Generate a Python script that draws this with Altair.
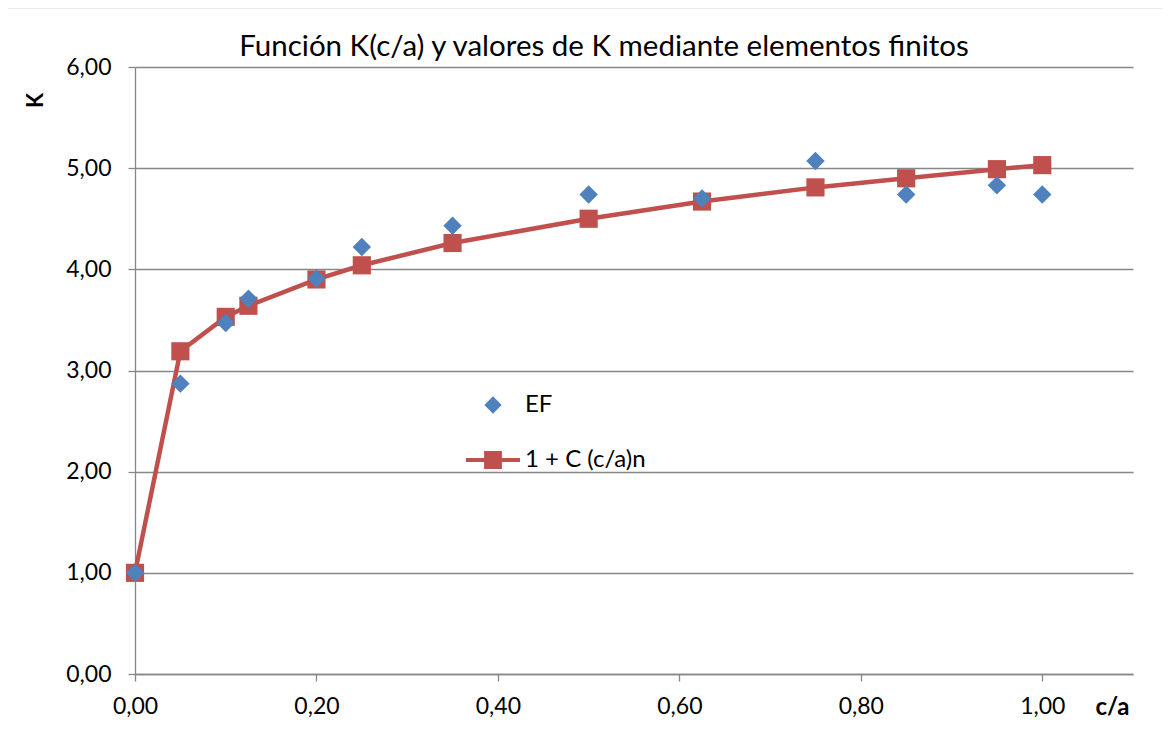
import altair as alt
import pandas as pd

ca = [0.0, 0.05, 0.10, 0.125, 0.20, 0.25, 0.35, 0.50, 0.625, 0.75, 0.85, 0.95, 1.00]
k_ef = [1.00, 2.87, 3.47, 3.71, 3.91, 4.22, 4.43, 4.74, 4.70, 5.07, 4.74, 4.83, 4.74]
k_fit = [1.00, 3.19, 3.53, 3.64, 3.90, 4.04, 4.26, 4.50, 4.67, 4.81, 4.90, 4.99, 5.03]
series_names = ["EF", "1 + C (c/a)n"]
colors = ["#4F81BD", "#C0504D"]
title_text = "Función K(c/a) y valores de K mediante elementos finitos"

FONT = "Lato"
GRID = "#878787"
W, H = 998, 607

df_ef = pd.DataFrame({"ca": ca, "K": k_ef, "serie": series_names[0]})
df_fit = pd.DataFrame({"ca": ca, "K": k_fit, "serie": series_names[1]})
df_all = pd.concat([df_ef, df_fit], ignore_index=True)

x_scale = alt.Scale(domain=[0, 1.1], nice=False, zero=False)
y_scale = alt.Scale(domain=[0, 6], nice=False)
lab = "replace(format(datum.value, '.2f'), '.', ',')"

x_axis = alt.Axis(values=[0, 0.2, 0.4, 0.6, 0.8, 1.0], labelExpr=lab, grid=False,
                  labelFlush=False, tickSize=7, labelPadding=14, title="c/a",
                  titleFontWeight="bold", titleFontSize=24, titleX=977, titleY=33,
                  titleAlign="center", titleBaseline="middle", titleAngle=0)
y_axis = alt.Axis(values=[0, 1, 2, 3, 4, 5, 6], labelExpr=lab, grid=True,
                  labelFlush=False, tickSize=7, labelPadding=17, title="K",
                  titleFontWeight="bold", titleFontSize=22, titleX=-100, titleY=33,
                  titleAlign="center", titleBaseline="middle", titleAngle=-90)

diamond_path = "M0,-0.32L0.32,0L0,0.32L-0.32,0Z"
line_sq_path = "M-1,-0.075H1V0.075H-1Z M-0.33,-0.33H0.33V0.33H-0.33Z"

color_scale = alt.Scale(domain=series_names, range=colors)
shape_scale = alt.Scale(domain=series_names, range=[diamond_path, line_sq_path])

legend = alt.Legend(
    title=None, orient="none", legendX=331, legendY=311, direction="vertical",
    symbolSize=2916, labelFontSize=24, labelFont=FONT, labelOffset=5,
    rowPadding=16, padding=0, symbolStrokeWidth=0, symbolOpacity=1,
    labelColor="#000000",
)

line = alt.Chart(df_fit).mark_line(color=colors[1], strokeWidth=4.5).encode(
    x=alt.X("ca:Q", scale=x_scale, axis=x_axis),
    y=alt.Y("K:Q", scale=y_scale, axis=y_axis),
)
squares = alt.Chart(df_fit).mark_square(color=colors[1], size=330, opacity=1).encode(
    x=alt.X("ca:Q", scale=x_scale),
    y=alt.Y("K:Q", scale=y_scale),
)
diamonds = alt.Chart(df_ef).mark_point(shape="diamond", filled=True, color=colors[0],
                                       size=340, opacity=1).encode(
    x=alt.X("ca:Q", scale=x_scale),
    y=alt.Y("K:Q", scale=y_scale),
)
legend_layer = alt.Chart(df_all).mark_point(filled=True, opacity=0).encode(
    x=alt.X("ca:Q", scale=x_scale),
    y=alt.Y("K:Q", scale=y_scale),
    color=alt.Color("serie:N", scale=color_scale, legend=legend),
    shape=alt.Shape("serie:N", scale=shape_scale, legend=legend),
)

frame = alt.Chart(pd.DataFrame({"a": [0]})).mark_rect(
    fill=None, stroke="#D9D9D9", strokeWidth=1.2, clip=False
).encode(x=alt.value(-128), x2=alt.value(W + 60), y=alt.value(-59), y2=alt.value(H + 90))

chart = alt.layer(frame, line, squares, diamonds, legend_layer).properties(
    width=W, height=H,
    title=alt.Title(title_text, fontSize=29.5, font=FONT, fontWeight="normal",
                    color="#000000", anchor="middle", dx=-30, offset=-55),
    autosize=alt.AutoSizeParams(type="none"),
    padding={"left": 127, "top": 59, "right": 29, "bottom": 53},
).configure_view(stroke=None).configure_axis(
    labelFont=FONT, titleFont=FONT, labelFontSize=23, labelColor="#000000",
    titleColor="#000000", domainColor=GRID, tickColor=GRID, gridColor=GRID,
    domainWidth=1.3, gridWidth=1.3, tickWidth=1.3,
)

chart.save("out.html", embed_options={"renderer": "svg", "actions": False})
